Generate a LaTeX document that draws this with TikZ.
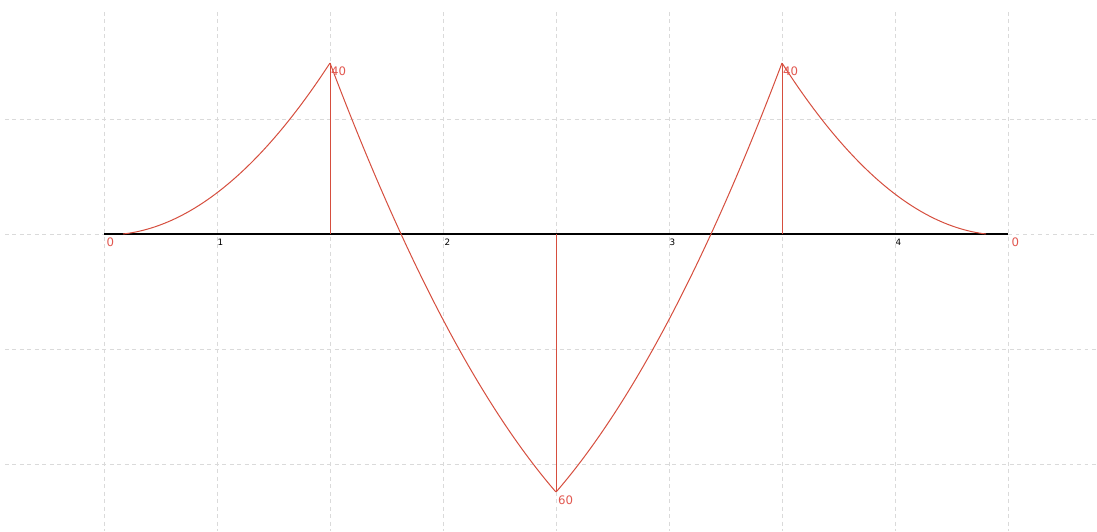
\documentclass[tikz,border=0pt]{standalone}
\usepackage{fontspec}
\setmainfont{DejaVu Sans}
\begin{document}
\begin{tikzpicture}[x=0.03cm,y=-0.03cm,
  gridline/.style={draw={rgb,255:red,218;green,218;blue,218},line width=0.6pt,dash pattern=on 3.2pt off 3.2pt},
  beam/.style={draw=black,line width=1.1pt},
  moment/.style={draw=momred,line width=0.85pt,line join=round},
  vallabel/.style={text=momlab,font=\fontsize{10}{11}\selectfont,inner sep=0pt},
  ticklabel/.style={text=black,font=\fontsize{7.5}{8}\selectfont,inner sep=0pt}]
\definecolor{momred}{RGB}{214,78,62}
\definecolor{momlab}{RGB}{226,88,80}
\useasboundingbox[fill=white] (0,0) rectangle (1097,531);
% grid
\foreach \gx in {104,217,330,443,556,669,782,895,1008}
  \draw[gridline] (\gx,12) -- (\gx,531);
\foreach \gy in {119.5,349.5,464.5}
  \draw[gridline] (5,\gy) -- (1097,\gy);
\draw[gridline] (1008,234) -- (1097,234);
\draw[gridline] (5,234) -- (104,234);
% named points
\coordinate (A) at (104,234);
\coordinate (B) at (1008,234);
\coordinate (s1) at (330,234);
\coordinate (m) at (556,234);
\coordinate (s2) at (782,234);
\coordinate (p1) at (330,63);
\coordinate (p2) at (556,492);
\coordinate (p3) at (782,63);
% beam axis
\draw[beam] (A) -- (B);
% ordinates
\draw[moment] (s1) -- (p1);
\draw[moment] (m) -- (p2);
\draw[moment] (s2) -- (p3);
% moment curves
\draw[moment] plot[domain=0:1,samples=60,variable=\t] ({123+207*\t},{234-171*(0.14*\t+0.86*\t*\t)});
\draw[moment] plot[domain=0:1,samples=60,variable=\t] ({330+226*\t},{234+(-171+597.1*\t-168*\t*\t)});
\draw[moment] plot[domain=0:1,samples=60,variable=\t] ({782-226*\t},{234+(-171+597.1*\t-168*\t*\t)});
\draw[moment] plot[domain=0:1,samples=60,variable=\t] ({986-204*\t},{234-171*(0.14*\t+0.86*\t*\t)});
% value labels
\node[vallabel,anchor=west] (l40a) at (331,71) {40};
\node[vallabel,anchor=west] (l40b) at (783,71) {40};
\node[vallabel,anchor=west] (l60) at (558,500) {60};
\node[vallabel,anchor=west] (l0a) at (106.5,242) {0};
\node[vallabel,anchor=west] (l0b) at (1011.5,242) {0};
% tick labels
\node[ticklabel] (t1) at (220.5,242) {1};
\node[ticklabel] (t2) at (447.5,242) {2};
\node[ticklabel] (t3) at (672.5,242) {3};
\node[ticklabel] (t4) at (898.5,242) {4};
\end{tikzpicture}
\end{document}
